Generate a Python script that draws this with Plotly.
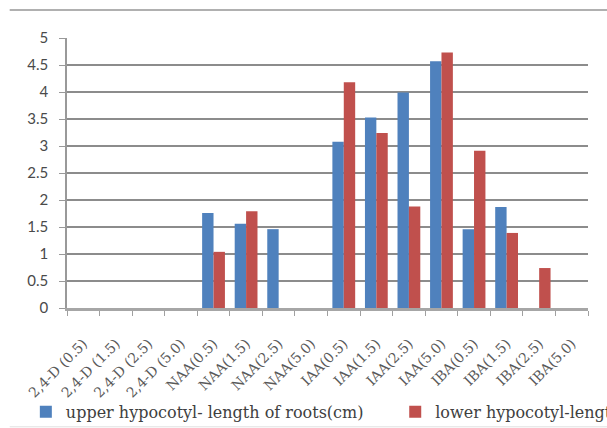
import plotly.graph_objects as go

# Treatments (hormone and concentration) on the category axis
categories = [
    "2,4-D (0.5)", "2,4-D (1.5)", "2,4-D (2.5)", "2,4-D (5.0)",
    "NAA(0.5)", "NAA(1.5)", "NAA(2.5)", "NAA(5.0)",
    "IAA(0.5)", "IAA(1.5)", "IAA(2.5)", "IAA(5.0)",
    "IBA(0.5)", "IBA(1.5)", "IBA(2.5)", "IBA(5.0)",
]

# Mean root length (cm) for each explant type
upper_hypocotyl = [0, 0, 0, 0, 1.76, 1.56, 1.46, 0,
                   3.08, 3.53, 3.99, 4.57, 1.46, 1.87, 0, 0]
lower_hypocotyl = [0, 0, 0, 0, 1.04, 1.79, 0, 0,
                   4.18, 3.24, 1.88, 4.73, 2.91, 1.39, 0.74, 0]

y_ticks = [0, 0.5, 1, 1.5, 2, 2.5, 3, 3.5, 4, 4.5, 5]
y_tick_text = ["0", "0.5", "1", "1.5", "2", "2.5", "3", "3.5", "4", "4.5", "5"]

BLUE = "#4F81BD"
RED = "#C0504D"
SERIF = "DejaVu Serif"

fig = go.Figure()
fig.add_trace(go.Bar(
    x=categories, y=upper_hypocotyl,
    name="upper hypocotyl- length of roots(cm)",
    marker=dict(color=BLUE, line=dict(width=0)),
    legend="legend",
))
fig.add_trace(go.Bar(
    x=categories, y=lower_hypocotyl,
    name="lower hypocotyl-length of roots(cm)",
    marker=dict(color=RED, line=dict(width=0)),
    legend="legend2",
))

legend_style = dict(
    y=-0.385, xanchor="left", yanchor="middle", orientation="h",
    font=dict(family=SERIF, size=16, color="#404040"),
    bgcolor="rgba(0,0,0,0)", itemwidth=30,
)

fig.update_layout(
    width=607, height=428,
    margin=dict(l=67, r=19, t=38, b=120, autoexpand=False),
    paper_bgcolor="white",
    plot_bgcolor="white",
    barmode="group",
    bargap=0.3,
    bargroupgap=0,
    showlegend=True,
    legend=dict(x=-0.079, **legend_style),
    legend2=dict(x=0.63, **legend_style),
    xaxis=dict(
        type="category",
        tickangle=-45,
        tickfont=dict(family=SERIF, size=14, color="#595959"),
        ticks="outside", ticklen=5, tickcolor="#a0a0a0",
        tickson="boundaries",
        showline=True, linecolor="#a6a6a6", linewidth=3,
        showgrid=False,
        ticklabelstandoff=19,
    ),
    yaxis=dict(
        range=[0, 5],
        tickvals=y_ticks, ticktext=y_tick_text,
        tickfont=dict(family="Lato", size=15, color="#4a4a4a"),
        ticks="outside", ticklen=6, tickcolor="#999999",
        showline=True, linecolor="#999999", linewidth=1.5,
        showgrid=True, gridcolor="#8c8c8c", gridwidth=1.6,
        zeroline=False,
        ticklabelstandoff=8,
    ),
    shapes=[
        dict(type="line", xref="paper", yref="paper",
             x0=-0.11, x1=1.05, y0=1.104, y1=1.104,
             line=dict(color="#b0b0b0", width=2)),
        dict(type="line", xref="paper", yref="paper",
             x0=-0.11, x1=1.05, y0=-0.44, y1=-0.44,
             line=dict(color="#e0e0e0", width=1)),
    ],
)

fig.write_html("out.html")
